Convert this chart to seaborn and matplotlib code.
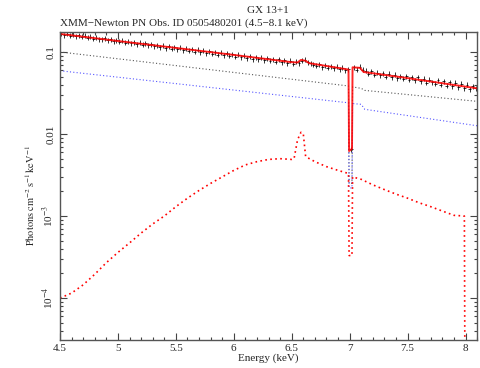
import numpy as np
import matplotlib
matplotlib.use("Agg")
import matplotlib.pyplot as plt
import matplotlib.ticker as mticker
import seaborn as sns

# --- data ---
# observed spectrum: channel centres every 0.025 keV from 4.5125 keV
chan_start, chan_step = 4.5125, 0.025
flux_obs = [
    0.166, 0.161, 0.167, 0.158, 0.162, 0.156, 0.161, 0.153, 0.157, 0.150,
    0.153, 0.145, 0.150, 0.144, 0.142, 0.147, 0.139, 0.143, 0.136, 0.140,
    0.133, 0.137, 0.129, 0.134, 0.127, 0.131, 0.125, 0.129, 0.122, 0.127,
    0.120, 0.125, 0.117, 0.121, 0.115, 0.119, 0.112, 0.117, 0.110, 0.115,
    0.108, 0.113, 0.105, 0.110, 0.103, 0.108, 0.101, 0.106, 0.099, 0.104,
    0.097, 0.102, 0.095, 0.099, 0.093, 0.098, 0.091, 0.096, 0.090, 0.094,
    0.088, 0.093, 0.086, 0.090, 0.084, 0.089, 0.082, 0.087, 0.081, 0.085,
    0.079, 0.084, 0.078, 0.082, 0.076, 0.081, 0.075, 0.079, 0.073, 0.078,
    0.072, 0.076, 0.073, 0.078, 0.080, 0.075, 0.073, 0.070, 0.068, 0.071,
    0.065, 0.069, 0.064, 0.067, 0.063, 0.066, 0.062, 0.064, 0.060, 0.062,
    0.0065, 0.065, 0.061, 0.066, 0.061,
    0.059, 0.054, 0.058, 0.053, 0.056, 0.052, 0.055, 0.050, 0.054, 0.049,
    0.053, 0.048, 0.051, 0.047, 0.051, 0.046, 0.049, 0.045, 0.049, 0.044,
    0.047, 0.042, 0.046, 0.043, 0.041, 0.045, 0.040, 0.044, 0.039, 0.043,
    0.038, 0.042, 0.037, 0.041, 0.036, 0.040, 0.035, 0.038, 0.036,
]
err_frac = 0.07

# total model
model_e = [4.5, 5.0, 5.5, 6.0, 6.5, 6.55, 6.58, 6.62, 6.65, 6.99, 6.995,
           7.02, 7.025, 7.09, 7.12, 7.5, 8.1]
model_f = [0.166, 0.136, 0.112, 0.092, 0.075, 0.0745, 0.080, 0.078, 0.073,
           0.061, 0.0062, 0.0066, 0.065, 0.064, 0.057, 0.048, 0.036]

# continuum component 1 (grey dotted)
cont1_e = [4.5, 6.99, 6.995, 7.02, 7.025, 7.1, 7.13, 8.1]
cont1_f = [0.100, 0.0385, 0.0025, 0.0025, 0.0375, 0.036, 0.034, 0.025]

# continuum component 2 (blue dotted)
cont2_e = [4.5, 6.99, 6.995, 7.02, 7.025, 7.1, 7.13, 8.1]
cont2_f = [0.059, 0.024, 0.0022, 0.0022, 0.0235, 0.023, 0.020, 0.0126]

# reflection / line component (red dotted)
line_e = [4.5, 4.6, 4.7, 4.8, 4.9, 5.0, 5.1, 5.2, 5.3, 5.4, 5.5, 5.6, 5.7,
          5.8, 5.9, 6.0, 6.1, 6.2, 6.3, 6.4, 6.5, 6.52, 6.55, 6.58, 6.6,
          6.62, 6.7, 6.8, 6.9, 6.99, 6.995, 7.02, 7.025, 7.1, 7.2, 7.3, 7.4,
          7.5, 7.6, 7.7, 7.8, 7.9, 7.99, 7.995]
line_f = [1.0e-4, 1.15e-4, 1.45e-4, 1.95e-4, 2.7e-4, 3.6e-4, 4.7e-4, 6.2e-4,
          8.0e-4, 1.0e-3, 1.3e-3, 1.65e-3, 2.05e-3, 2.5e-3, 3.0e-3, 3.6e-3,
          4.2e-3, 4.6e-3, 4.9e-3, 5.0e-3, 4.9e-3, 5.0e-3, 8.5e-3, 1.05e-2,
          1.0e-2, 5.3e-3, 4.6e-3, 4.0e-3, 3.6e-3, 3.3e-3, 3.3e-4, 3.3e-4,
          3.0e-3, 2.8e-3, 2.4e-3, 2.1e-3, 1.85e-3, 1.65e-3, 1.45e-3, 1.3e-3,
          1.15e-3, 1.02e-3, 1.0e-3, 1.0e-5]

x_ticks = [4.5, 5, 5.5, 6, 6.5, 7, 7.5, 8]
x_tick_labels = ["4.5", "5", "5.5", "6", "6.5", "7", "7.5", "8"]
y_ticks = [1e-4, 1e-3, 1e-2, 1e-1]
y_tick_labels = ["10$^{-4}$", "10$^{-3}$", "0.01", "0.1"]

# --- style ---
sns.set_theme(style="ticks")
plt.rcParams["font.family"] = ["Liberation Serif", "DejaVu Serif"]
plt.rcParams["mathtext.fontset"] = "stix"
plt.rcParams["font.size"] = 8

fig = plt.figure(figsize=(4.8, 3.68), dpi=100)
ax = fig.add_axes([0.125, 0.076, 0.869, 0.837])

chan_e = chan_start + chan_step * np.arange(len(flux_obs))
flux_obs = np.array(flux_obs)

dot = (0, (1, 2))
sns.lineplot(x=cont1_e, y=cont1_f, ax=ax, color="#555555", lw=0.8,
             linestyle=dot, sort=False, estimator=None)
sns.lineplot(x=cont2_e, y=cont2_f, ax=ax, color="#5555ff", lw=0.8,
             linestyle=dot, sort=False, estimator=None)
sns.lineplot(x=line_e, y=line_f, ax=ax, color="red", lw=1.2,
             linestyle=(0, (1, 2)), sort=False, estimator=None)

ax.errorbar(chan_e, flux_obs, xerr=chan_step / 2, yerr=flux_obs * err_frac,
            fmt="none", ecolor="black", elinewidth=0.7, alpha=0.8)
sns.lineplot(x=model_e, y=model_f, ax=ax, color="red", lw=1.4,
             sort=False, estimator=None, alpha=0.85)

ax.set_yscale("log")
ax.set_xlim(4.5, 8.1)
ax.set_ylim(3.08e-5, 0.175)

ax.set_xticks(x_ticks)
ax.set_xticklabels(x_tick_labels)
ax.xaxis.set_minor_locator(mticker.MultipleLocator(0.1))
ax.yaxis.set_major_locator(mticker.FixedLocator(y_ticks))
ax.yaxis.set_major_formatter(mticker.FixedFormatter(y_tick_labels))
ax.yaxis.set_minor_locator(mticker.LogLocator(base=10, subs=np.arange(2, 10)))
ax.yaxis.set_minor_formatter(mticker.NullFormatter())
for lab in ax.get_yticklabels():
    lab.set_rotation(90)
    lab.set_va("center")

ax.tick_params(which="both", direction="in", top=True, right=True,
               color="#444444", width=0.8, labelsize=8, pad=3)
ax.tick_params(which="major", length=5)
ax.tick_params(which="minor", length=2.5)
for sp in ax.spines.values():
    sp.set_color("#555555")
    sp.set_linewidth(1.0)

ax.set_xlabel("Energy (keV)", fontsize=8, labelpad=0)
ax.set_ylabel(r"$\mathrm{Photons\ cm^{-2}\,s^{-1}\,keV^{-1}}$", fontsize=7.5)
ax.yaxis.set_label_coords(-0.055, 0.47)

fig.text(0.558, 0.972, "GX 13+1", ha="center", va="center", fontsize=8)
fig.text(0.125, 0.937, "XMM\u2212Newton PN Obs. ID 0505480201 (4.5\u22128.1 keV)",
         ha="left", va="center", fontsize=8)

fig.savefig("out.png", dpi=100)
